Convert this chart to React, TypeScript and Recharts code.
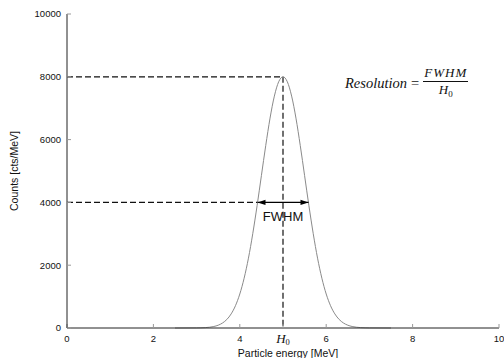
import {
  LineChart, Line, XAxis, YAxis, ReferenceLine,
} from "recharts";

// energy in MeV, counts in cts/MeV
const energy = [
  2.5, 3.0, 3.1, 3.2, 3.3, 3.4, 3.5, 3.6, 3.7, 3.8, 3.9,
  4.0, 4.1, 4.2, 4.3, 4.4, 4.5, 4.6, 4.7, 4.8, 4.9,
  5.0, 5.1, 5.2, 5.3, 5.4, 5.5, 5.6, 5.7, 5.8, 5.9,
  6.0, 6.1, 6.2, 6.3, 6.4, 6.5, 6.6, 6.7, 6.8, 6.9, 7.0, 7.5,
];
const counts = [
  0, 3, 6, 12, 25, 48, 89, 159, 272, 449, 711,
  1083, 1584, 2224, 3003, 3894, 4852, 5809, 6683, 7385, 7842,
  8000, 7842, 7385, 6683, 5809, 4852, 3894, 3003, 2224, 1584,
  1083, 711, 449, 272, 159, 89, 48, 25, 12, 6, 3, 0,
];

const xTicks = [0, 2, 4, 5, 6, 8, 10];
const xMirrorTicks = [0, 2, 4, 6, 8, 10];
const yTicks = [0, 2000, 4000, 6000, 8000, 10000];

const peakEnergy = 5;
const peakCounts = 8000;
const halfCounts = 4000;
const fwhmLeft = 4.41;
const fwhmRight = 5.59;

const data = energy.map((e, i) => ({ e, c: counts[i] }));

const SANS = "Liberation Sans, Arial, sans-serif";
const SERIF = "Liberation Serif, Times New Roman, serif";
const AXIS = { stroke: "#222", strokeWidth: 1 };
const TICK = { stroke: "#999", strokeWidth: 1 };

const XTick = ({ x, y, payload }: any) => {
  if (payload.value === peakEnergy) {
    return (
      <text x={x} y={y + 10} textAnchor="middle" fontFamily={SERIF} fontStyle="italic" fontSize={13} fill="#111">
        H<tspan fontSize={8.5} dy={2} fontStyle="normal">0</tspan>
      </text>
    );
  }
  return (
    <text x={x} y={y + 8.5} textAnchor="middle" fontFamily={SANS} fontSize={9.5} fill="#111">
      {payload.value}
    </text>
  );
};

const Empty = () => <g />;

const FwhmArrow = (props: any) => {
  const { x1, y1, x2 } = props;
  const h = 8, w = 2.6;
  return (
    <g>
      <line x1={x1} y1={y1} x2={x2} y2={y1} stroke="#000" strokeWidth={1.3} />
      <polygon points={`${x1},${y1} ${x1 + h},${y1 - w} ${x1 + h},${y1 + w}`} fill="#000" />
      <polygon points={`${x2},${y1} ${x2 - h},${y1 - w} ${x2 - h},${y1 + w}`} fill="#000" />
      <text x={(x1 + x2) / 2} y={y1 + 19} textAnchor="middle" fontFamily={SANS} fontSize={13} fill="#111">
        FWHM
      </text>
    </g>
  );
};

export default function App() {
  const dash = { stroke: "#111", strokeWidth: 1.2, strokeDasharray: "6 3" };
  return (
    <div style={{ position: "absolute", left: 0, top: 0, width: 504, height: 358, background: "#fff", overflow: "hidden" }}>
      <LineChart width={504} height={358} data={data} margin={{ top: 14, right: 5, bottom: 0, left: 0 }}>
        <XAxis
          dataKey="e" type="number" domain={[0, 10]} ticks={xTicks} allowDataOverflow
          height={30} tickSize={-4} tickMargin={9} axisLine={AXIS} tickLine={TICK}
          tick={<XTick />} interval={0}
          label={{
            content: (p: any) => (
              <text x={p.viewBox.x + p.viewBox.width / 2 + 5} y={356.5} textAnchor="middle" fontFamily={SANS} fontSize={10.5} fill="#111">
                Particle energy [MeV]
              </text>
            ),
          }}
        />
        <XAxis
          xAxisId="top" orientation="top" type="number" domain={[0, 10]} ticks={xMirrorTicks}
          height={0} tickSize={-4} axisLine={AXIS} tickLine={TICK} tick={<Empty />} interval={0}
        />
        <YAxis
          type="number" domain={[0, 10000]} ticks={yTicks} width={67}
          tickSize={-4} tickMargin={10} axisLine={AXIS} tickLine={TICK} interval={0}
          tick={{ fontFamily: SANS, fontSize: 9.5, fill: "#111" }}
          label={{
            content: (p: any) => {
              const cy = p.viewBox.y + p.viewBox.height / 2;
              return (
                <text x={18} y={cy} transform={`rotate(-90 18 ${cy})`} textAnchor="middle" fontFamily={SANS} fontSize={10.5} fill="#111">
                  Counts [cts/MeV]
                </text>
              );
            },
          }}
        />
        <YAxis
          yAxisId="right" orientation="right" type="number" domain={[0, 10000]} ticks={yTicks}
          width={0} tickSize={-4} axisLine={AXIS} tickLine={TICK} tick={<Empty />} interval={0}
        />
        <ReferenceLine segment={[{ x: 0, y: peakCounts }, { x: peakEnergy, y: peakCounts }]} {...dash} />
        <ReferenceLine segment={[{ x: peakEnergy, y: peakCounts }, { x: peakEnergy, y: 0 }]} {...dash} />
        <ReferenceLine segment={[{ x: 0, y: halfCounts }, { x: fwhmLeft, y: halfCounts }]} {...dash} />
        <Line
          dataKey="c" type="monotone" dot={false} stroke="#8a8a8a" strokeWidth={1}
          isAnimationActive={false}
        />
        <ReferenceLine
          segment={[{ x: fwhmLeft, y: halfCounts }, { x: fwhmRight, y: halfCounts }]}
          shape={<FwhmArrow />}
        />
      </LineChart>
      <div
        style={{
          position: "absolute", left: 345, top: 65, display: "flex", alignItems: "center",
          fontFamily: SERIF, fontStyle: "italic", fontSize: 14.5, color: "#111",
        }}
      >
        <span>Resolution</span>
        <span style={{ fontStyle: "normal", margin: "0 4px" }}>=</span>
        <span style={{ display: "inline-flex", flexDirection: "column", alignItems: "center" }}>
          <span style={{ padding: "0 1px 1px", borderBottom: "1px solid #111", lineHeight: "15px", fontSize: 13, letterSpacing: 1 }}>
            FWHM
          </span>
          <span style={{ lineHeight: "16px", fontSize: 13 }}>
            H<span style={{ fontSize: 9, fontStyle: "normal", verticalAlign: "-3px" }}>0</span>
          </span>
        </span>
      </div>
    </div>
  );
}
